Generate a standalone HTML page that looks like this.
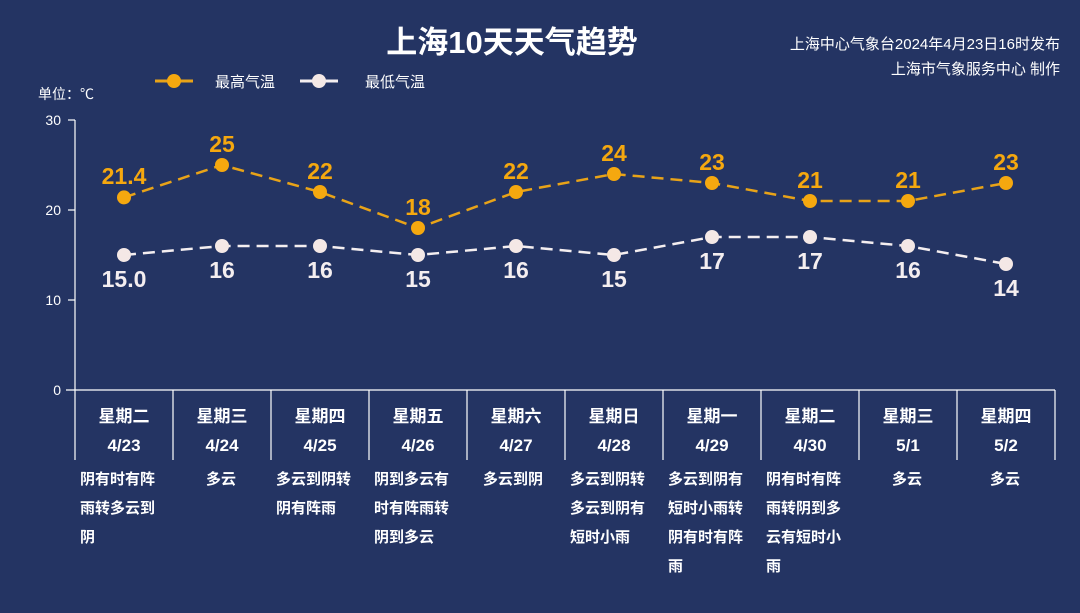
<!DOCTYPE html>
<html><head><meta charset="utf-8"><style>
html,body{margin:0;padding:0;background:#243463;}
svg{display:block;font-family:"Liberation Sans","Noto Sans CJK SC",sans-serif;}
</style></head><body>
<svg width="1080" height="613" viewBox="0 0 1080 613">
<rect width="1080" height="613" fill="#243463"/>
<text x="512" y="53" text-anchor="middle" fill="#fff" font-size="31" font-weight="bold">上海10天天气趋势</text>
<text x="1060" y="49" text-anchor="end" fill="#fff" font-size="15">上海中心气象台2024年4月23日16时发布</text>
<text x="1060" y="74" text-anchor="end" fill="#fff" font-size="15">上海市气象服务中心 制作</text>
<line x1="155" y1="81" x2="193" y2="81" stroke="#e8a318" stroke-width="3"/><circle cx="174" cy="81" r="7" fill="#f5a80f"/>
<text x="215" y="87" fill="#fff" font-size="15">最高气温</text>
<line x1="300" y1="81" x2="338" y2="81" stroke="#f4eef0" stroke-width="3"/><circle cx="319" cy="81" r="7" fill="#f4e8e6"/>
<text x="365" y="87" fill="#fff" font-size="15">最低气温</text>
<text x="38" y="99" fill="#fff" font-size="14">单位：℃</text>
<g fill="#fff" font-size="14" text-anchor="end">
<text x="61" y="125">30</text><text x="61" y="215">20</text><text x="61" y="305">10</text><text x="61" y="395">0</text></g>
<g stroke="#fff" stroke-width="1.2">
<line x1="75" y1="120" x2="75" y2="460"/>
<line x1="68" y1="120" x2="75" y2="120"/><line x1="68" y1="210" x2="75" y2="210"/><line x1="68" y1="300" x2="75" y2="300"/>
<line x1="66" y1="390" x2="1055" y2="390"/>
<line x1="173" y1="390" x2="173" y2="460"/><line x1="271" y1="390" x2="271" y2="460"/><line x1="369" y1="390" x2="369" y2="460"/><line x1="467" y1="390" x2="467" y2="460"/><line x1="565" y1="390" x2="565" y2="460"/><line x1="663" y1="390" x2="663" y2="460"/><line x1="761" y1="390" x2="761" y2="460"/><line x1="859" y1="390" x2="859" y2="460"/><line x1="957" y1="390" x2="957" y2="460"/><line x1="1055" y1="390" x2="1055" y2="460"/>
</g>
<polyline fill="none" stroke="#e8a318" stroke-width="2.5" stroke-dasharray="12,7" points="124,197.4 222,165 320,192 418,228 516,192 614,174 712,183 810,201 908,201 1006,183"/>
<polyline fill="none" stroke="#f4eef0" stroke-width="2.5" stroke-dasharray="12,7" points="124,255 222,246 320,246 418,255 516,246 614,255 712,237 810,237 908,246 1006,264"/>
<g fill="#f5a80f">
<circle cx="124" cy="197.4" r="7"/><circle cx="222" cy="165" r="7"/><circle cx="320" cy="192" r="7"/><circle cx="418" cy="228" r="7"/><circle cx="516" cy="192" r="7"/><circle cx="614" cy="174" r="7"/><circle cx="712" cy="183" r="7"/><circle cx="810" cy="201" r="7"/><circle cx="908" cy="201" r="7"/><circle cx="1006" cy="183" r="7"/></g>
<g fill="#f4e8e6">
<circle cx="124" cy="255" r="7"/><circle cx="222" cy="246" r="7"/><circle cx="320" cy="246" r="7"/><circle cx="418" cy="255" r="7"/><circle cx="516" cy="246" r="7"/><circle cx="614" cy="255" r="7"/><circle cx="712" cy="237" r="7"/><circle cx="810" cy="237" r="7"/><circle cx="908" cy="246" r="7"/><circle cx="1006" cy="264" r="7"/></g>
<g fill="#f5a80f" font-size="23" font-weight="bold" text-anchor="middle">
<text x="124" y="184">21.4</text><text x="222" y="152">25</text><text x="320" y="179">22</text><text x="418" y="215">18</text><text x="516" y="179">22</text><text x="614" y="161">24</text><text x="712" y="170">23</text><text x="810" y="188">21</text><text x="908" y="188">21</text><text x="1006" y="170">23</text></g>
<g fill="#f4eef0" font-size="23" font-weight="bold" text-anchor="middle">
<text x="124" y="287">15.0</text><text x="222" y="278">16</text><text x="320" y="278">16</text><text x="418" y="287">15</text><text x="516" y="278">16</text><text x="614" y="287">15</text><text x="712" y="269">17</text><text x="810" y="269">17</text><text x="908" y="278">16</text><text x="1006" y="296">14</text></g>
<g fill="#fff" font-size="17" font-weight="bold" text-anchor="middle">
<text x="124" y="422">星期二</text><text x="222" y="422">星期三</text><text x="320" y="422">星期四</text><text x="418" y="422">星期五</text><text x="516" y="422">星期六</text><text x="614" y="422">星期日</text><text x="712" y="422">星期一</text><text x="810" y="422">星期二</text><text x="908" y="422">星期三</text><text x="1006" y="422">星期四</text>
<text x="124" y="451">4/23</text><text x="222" y="451">4/24</text><text x="320" y="451">4/25</text><text x="418" y="451">4/26</text><text x="516" y="451">4/27</text><text x="614" y="451">4/28</text><text x="712" y="451">4/29</text><text x="810" y="451">4/30</text><text x="908" y="451">5/1</text><text x="1006" y="451">5/2</text></g>
<g fill="#fff" font-size="15" font-weight="bold">
<text x="80" y="484">阴有时有阵</text><text x="80" y="513">雨转多云到</text><text x="80" y="542">阴</text>
<text x="206" y="484">多云</text>
<text x="276" y="484">多云到阴转</text><text x="276" y="513">阴有阵雨</text>
<text x="374" y="484">阴到多云有</text><text x="374" y="513">时有阵雨转</text><text x="374" y="542">阴到多云</text>
<text x="483" y="484">多云到阴</text>
<text x="570" y="484">多云到阴转</text><text x="570" y="513">多云到阴有</text><text x="570" y="542">短时小雨</text>
<text x="668" y="484">多云到阴有</text><text x="668" y="513">短时小雨转</text><text x="668" y="542">阴有时有阵</text><text x="668" y="571">雨</text>
<text x="766" y="484">阴有时有阵</text><text x="766" y="513">雨转阴到多</text><text x="766" y="542">云有短时小</text><text x="766" y="571">雨</text>
<text x="892" y="484">多云</text>
<text x="990" y="484">多云</text></g>
</svg>
</body></html>
